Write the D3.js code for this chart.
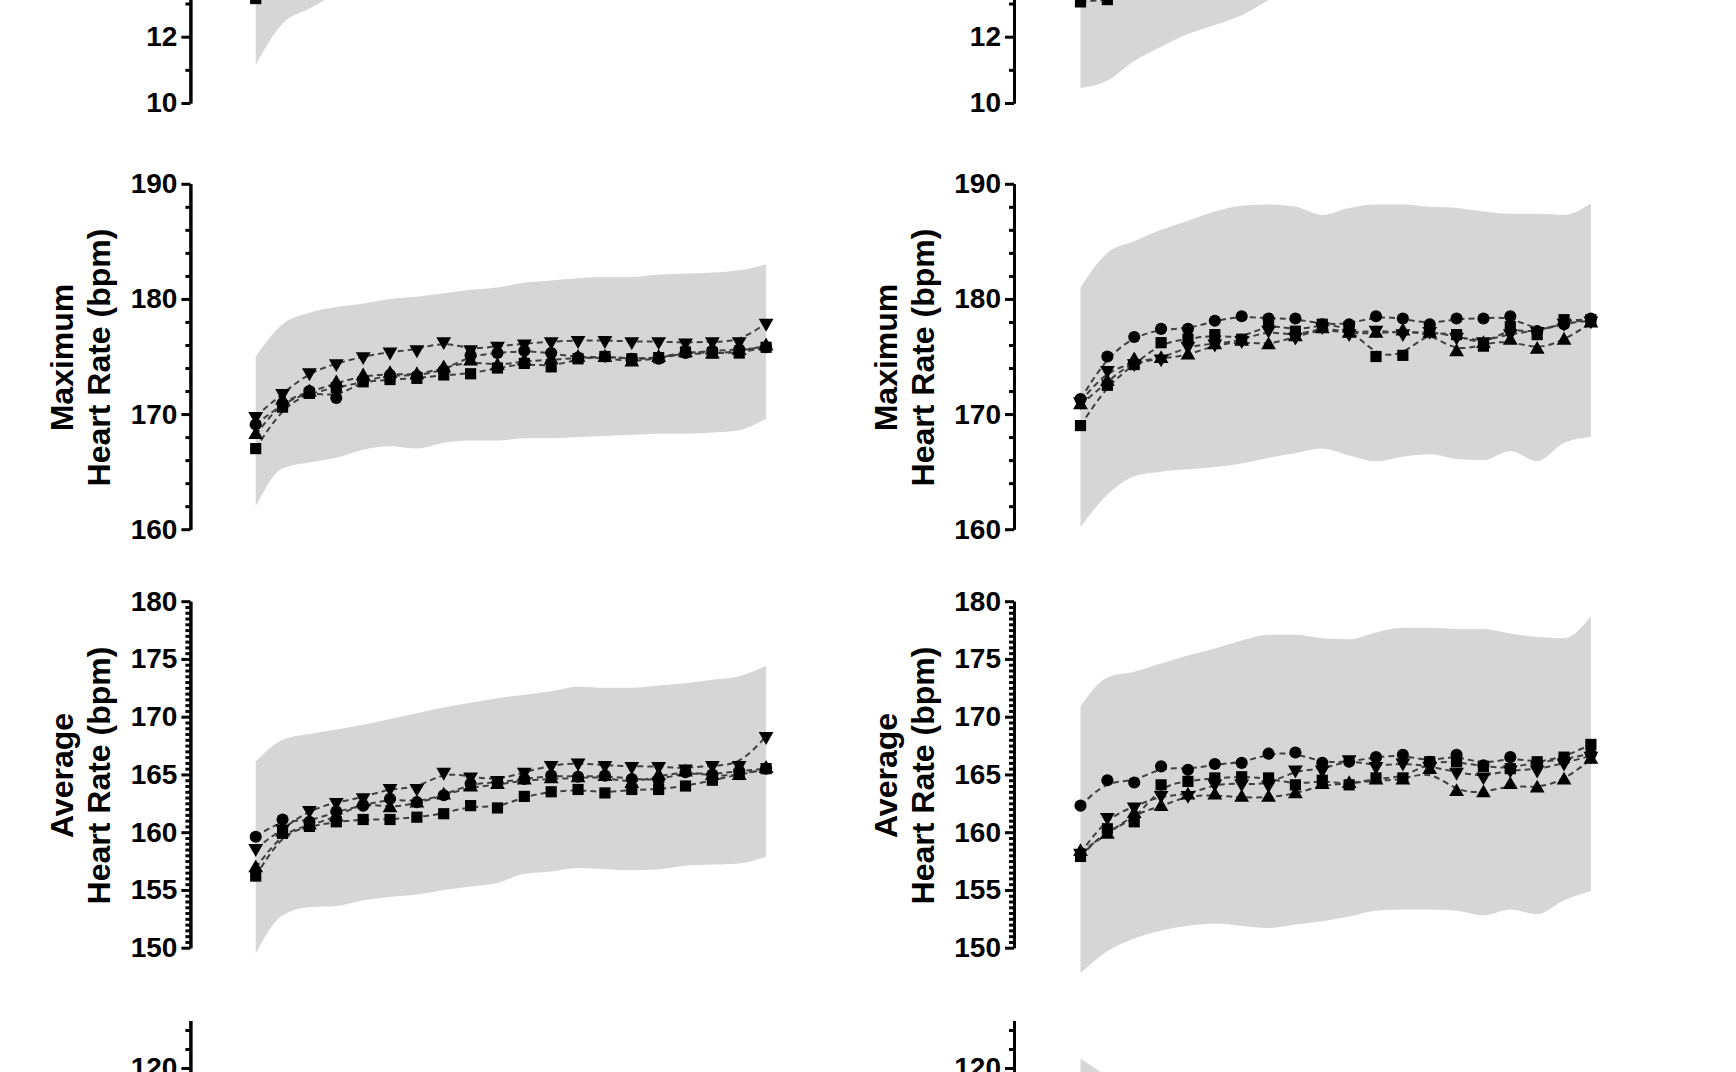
<!DOCTYPE html>
<html lang="en">

<head>

    <meta charset="UTF-8">
    <title>Heart Rate Panels</title>

    <style>

        body
        {
            margin: 0;
            background: #fff;
        }

        svg
        {
            display: block;
        }

        .tick text
        {
            font-family: 'Liberation Sans', Arial, sans-serif;
            font-size: 28px;
            font-weight: bold;
            fill: #000;
        }

        .axis path,
        .axis line
        {
            stroke: #000;
            stroke-width: 3;
        }

        .axis-label
        {
            font-family: 'Liberation Sans', Arial, sans-serif;
            font-size: 32px;
            font-weight: bold;
            fill: #000;
        }

    </style>

</head>

<body>

    <svg width="1736" height="1072"></svg>

    <script src="https://d3js.org/d3.v7.min.js"></script>

    <script>

        // x categories (time points along each panel)
        const stages = [1, 2, 3, 4, 5, 6, 7, 8, 9, 10, 11, 12, 13, 14, 15, 16, 17, 18, 19, 20];

        // Top panels (only the lower part is visible)
        const topLeftBandLo = [11.15, 12.4, 12.85, 13.3];
        const topLeftBandHi = [13.6, 13.6, 13.6, 13.6];
        const topLeftSquare = [13.15];

        const topRightBandLo = [10.45, 10.68, 11.27, 11.7, 12.08, 12.35, 12.65, 13.1, 13.5];
        const topRightBandHi = [13.8, 13.8, 13.8, 13.8, 13.8, 13.8, 13.8, 13.8, 13.8];
        const topRightSquare = [13.05, 13.12];

        // Maximum heart rate, left column
        const maxLeftDown = [169.8, 171.8, 173.6, 174.4, 175.0, 175.4, 175.6, 176.3, 175.6, 175.9, 176.1, 176.3, 176.4, 176.4, 176.3, 176.3, 176.2, 176.3, 176.3, 177.9];
        const maxLeftCircle = [169.1, 170.9, 172.0, 171.4, 172.9, 173.4, 173.3, 173.8, 175.1, 175.3, 175.5, 175.3, 174.9, 175.0, 174.8, 174.8, 175.3, 175.5, 175.6, 175.8];
        const maxLeftUp = [168.2, 171.2, 171.9, 172.7, 173.3, 173.5, 173.4, 174.0, 174.6, 174.2, 174.6, 174.7, 174.9, 174.9, 174.5, 174.9, 175.3, 175.2, 175.5, 175.9];
        const maxLeftSquare = [167.0, 170.6, 171.8, 172.3, 172.8, 173.0, 173.1, 173.4, 173.5, 174.0, 174.4, 174.1, 174.8, 175.0, 174.8, 174.9, 175.4, 175.3, 175.3, 175.8];
        const maxLeftBandHi = [175.0, 177.8, 178.8, 179.3, 179.6, 180.0, 180.2, 180.5, 180.8, 181.0, 181.4, 181.6, 181.8, 181.9, 181.9, 182.1, 182.2, 182.3, 182.5, 183.0];
        const maxLeftBandLo = [162.0, 165.3, 165.8, 166.2, 166.9, 167.2, 167.0, 167.5, 167.7, 167.7, 167.9, 167.9, 168.0, 168.1, 168.2, 168.3, 168.3, 168.4, 168.6, 169.6];

        // Maximum heart rate, right column
        const maxRightCircle = [171.3, 175.0, 176.7, 177.4, 177.4, 178.1, 178.5, 178.3, 178.3, 177.8, 177.8, 178.5, 178.3, 177.8, 178.3, 178.3, 178.5, 177.2, 177.8, 178.3];
        const maxRightSquare = [169.0, 172.5, 174.3, 176.2, 176.5, 176.9, 176.5, 177.9, 177.2, 177.8, 177.6, 175.0, 175.1, 177.2, 176.9, 175.9, 177.6, 176.9, 178.2, 178.2];
        const maxRightUp = [170.8, 172.8, 174.7, 174.8, 175.1, 176.0, 176.3, 176.0, 176.7, 177.4, 177.0, 177.0, 177.2, 177.0, 175.4, 176.1, 176.4, 175.6, 176.4, 177.9];
        const maxRightDown = [171.1, 173.8, 174.4, 174.8, 175.9, 176.1, 176.4, 177.3, 176.7, 177.6, 177.0, 177.3, 177.0, 177.2, 176.7, 176.3, 177.0, 177.2, 177.9, 178.1];
        const maxRightBandHi = [181.0, 184.0, 185.0, 186.0, 186.8, 187.6, 188.1, 188.2, 188.0, 187.3, 187.9, 188.2, 188.2, 188.0, 187.9, 187.6, 187.4, 187.4, 187.3, 188.3];
        const maxRightBandLo = [160.2, 163.0, 164.6, 165.0, 165.2, 165.4, 165.7, 166.2, 166.6, 167.0, 166.4, 165.9, 166.3, 166.5, 166.1, 166.0, 166.8, 165.9, 167.5, 168.0];

        // Average heart rate, left column
        const avgLeftDown = [158.6, 160.3, 161.9, 162.6, 163.0, 163.8, 163.8, 165.2, 164.8, 164.5, 165.2, 165.8, 166.0, 165.8, 165.7, 165.7, 165.5, 165.8, 165.8, 168.3];
        const avgLeftCircle = [159.6, 161.1, 160.9, 161.8, 162.3, 162.9, 162.6, 163.2, 164.2, 164.3, 164.6, 164.9, 164.8, 164.9, 164.6, 164.5, 165.2, 165.0, 165.3, 165.5];
        const avgLeftUp = [156.9, 160.0, 160.6, 161.3, 162.6, 162.1, 162.5, 163.2, 163.9, 164.1, 164.5, 164.6, 164.7, 164.8, 164.2, 164.9, 165.2, 164.9, 164.9, 165.5];
        const avgLeftSquare = [156.2, 159.9, 160.5, 160.9, 161.1, 161.1, 161.3, 161.6, 162.3, 162.1, 163.1, 163.5, 163.7, 163.4, 163.7, 163.7, 164.0, 164.5, 165.0, 165.5];
        const avgLeftBandHi = [166.1, 168.0, 168.5, 168.9, 169.3, 169.8, 170.3, 170.8, 171.2, 171.6, 171.9, 172.2, 172.6, 172.5, 172.5, 172.7, 172.9, 173.2, 173.5, 174.4];
        const avgLeftBandLo = [149.5, 152.8, 153.5, 153.6, 154.1, 154.4, 154.6, 155.0, 155.3, 155.6, 156.4, 156.6, 156.9, 156.8, 156.7, 156.8, 157.1, 157.2, 157.3, 157.9];

        // Average heart rate, right column
        const avgRightCircle = [162.3, 164.5, 164.3, 165.7, 165.4, 165.9, 166.0, 166.8, 166.9, 166.0, 166.1, 166.5, 166.7, 166.1, 166.7, 165.8, 166.5, 166.0, 166.3, 166.8];
        const avgRightSquare = [157.9, 160.3, 160.9, 164.1, 164.4, 164.7, 164.8, 164.7, 164.1, 164.5, 164.1, 164.7, 164.7, 166.1, 166.1, 165.7, 165.5, 166.1, 166.5, 167.6];
        const avgRightUp = [158.3, 159.8, 161.6, 162.2, 163.2, 163.2, 163.0, 163.0, 163.3, 164.1, 164.2, 164.5, 164.5, 165.4, 163.5, 163.4, 164.1, 163.8, 164.5, 166.3];
        const avgRightDown = [158.2, 161.3, 162.2, 163.2, 163.2, 164.2, 164.2, 164.1, 165.4, 165.4, 166.3, 165.7, 166.0, 165.7, 165.2, 164.8, 165.4, 165.4, 166.0, 166.6];
        const avgRightBandHi = [170.9, 173.4, 173.9, 174.6, 175.3, 175.9, 176.6, 177.1, 177.1, 176.8, 176.7, 177.3, 177.7, 177.7, 177.6, 177.6, 177.2, 176.9, 176.8, 178.7];
        const avgRightBandLo = [147.8, 149.7, 150.8, 151.5, 151.9, 152.1, 151.9, 151.7, 152.0, 152.3, 152.7, 153.2, 153.3, 153.3, 153.2, 152.8, 153.3, 152.9, 154.1, 154.9];

        // Bottom panels (only the top is visible)
        const cutRightBandHi = [121.0, 119.1];
        const cutRightBandLo = [100, 100];

        // Layout of the two columns
        const columns = [
            { axisX: 190.4, x0: 255.7, x1: 766.1 },
            { axisX: 1014, x0: 1080.5, x1: 1590.9 }
        ];

        // Layout of the rows (y scales and ticks)
        const rows = {
            top: { domain: [10, 14], range: [103, -29.6], major: [10, 12], minorStep: 1 },
            max: { domain: [160, 190], range: [529.2, 183.8], major: [160, 170, 180, 190], minorStep: 2,
                   title: ['Maximum', 'Heart Rate (bpm)'], titleY: 357.5 },
            avg: { domain: [150, 180], range: [947.7, 601.2], major: [150, 155, 160, 165, 170, 175, 180], minorStep: 0.5,
                   title: ['Average', 'Heart Rate (bpm)'], titleY: 775.5 },
            cut: { domain: [116, 125], range: [1106, 1020.5], major: [120], minorStep: 2 }
        };

        const panels = [
            { row: 'top', col: 0, bandLo: topLeftBandLo, bandHi: topLeftBandHi,
              series: [{ shape: 'square', values: topLeftSquare }] },
            { row: 'top', col: 1, bandLo: topRightBandLo, bandHi: topRightBandHi,
              series: [{ shape: 'square', values: topRightSquare }] },
            { row: 'max', col: 0, bandLo: maxLeftBandLo, bandHi: maxLeftBandHi,
              series: [
                  { shape: 'down', values: maxLeftDown },
                  { shape: 'circle', values: maxLeftCircle },
                  { shape: 'up', values: maxLeftUp },
                  { shape: 'square', values: maxLeftSquare }
              ] },
            { row: 'max', col: 1, bandLo: maxRightBandLo, bandHi: maxRightBandHi,
              series: [
                  { shape: 'down', values: maxRightDown },
                  { shape: 'circle', values: maxRightCircle },
                  { shape: 'up', values: maxRightUp },
                  { shape: 'square', values: maxRightSquare }
              ] },
            { row: 'avg', col: 0, bandLo: avgLeftBandLo, bandHi: avgLeftBandHi,
              series: [
                  { shape: 'down', values: avgLeftDown },
                  { shape: 'circle', values: avgLeftCircle },
                  { shape: 'up', values: avgLeftUp },
                  { shape: 'square', values: avgLeftSquare }
              ] },
            { row: 'avg', col: 1, bandLo: avgRightBandLo, bandHi: avgRightBandHi,
              series: [
                  { shape: 'down', values: avgRightDown },
                  { shape: 'circle', values: avgRightCircle },
                  { shape: 'up', values: avgRightUp },
                  { shape: 'square', values: avgRightSquare }
              ] },
            { row: 'cut', col: 0, series: [] },
            { row: 'cut', col: 1, bandLo: cutRightBandLo, bandHi: cutRightBandHi, series: [] }
        ];

        const symbols = {
            circle: d3.symbol().type(d3.symbolCircle).size(115),
            square: d3.symbol().type(d3.symbolSquare).size(125),
            up: d3.symbol().type(d3.symbolTriangle).size(95),
            down: d3.symbol().type(d3.symbolTriangle).size(95)
        };

        const svg = d3.select('svg');

        panels.forEach(function (p) {

            const row = rows[p.row];
            const col = columns[p.col];

            const xScale = d3.scaleLinear()
                .domain([stages[0], stages[stages.length - 1]])
                .range([col.x0, col.x1]);

            const yScale = d3.scaleLinear()
                .domain(row.domain)
                .range(row.range);

            const g = svg.append('g');

            // Shaded range
            if (p.bandLo) {
                const bandData = p.bandLo.map(function (lo, i) {
                    return { x: stages[i], lo: lo, hi: p.bandHi[i] };
                });

                g.append('path')
                    .datum(bandData)
                    .attr('fill', '#d6d6d6')
                    .attr('d', d3.area()
                        .x(function (d) { return xScale(d.x); })
                        .y0(function (d) { return yScale(d.lo); })
                        .y1(function (d) { return yScale(d.hi); })
                        .curve(d3.curveMonotoneX));
            }

            // Dashed fit lines
            const line = d3.line()
                .x(function (d) { return xScale(d.x); })
                .y(function (d) { return yScale(d.y); })
                .curve(d3.curveBasis);

            p.series.forEach(function (s) {
                const pts = s.values.map(function (v, i) {
                    return { x: stages[i], y: v };
                });

                if (pts.length > 1) {
                    g.append('path')
                        .datum(pts)
                        .attr('fill', 'none')
                        .attr('stroke', '#404040')
                        .attr('stroke-width', 2)
                        .attr('stroke-dasharray', '6,4')
                        .attr('d', line);
                }
            });

            // Markers on top
            p.series.forEach(function (s) {
                g.selectAll(null)
                    .data(s.values)
                    .enter()
                    .append('path')
                    .attr('d', symbols[s.shape])
                    .attr('fill', '#000')
                    .attr('transform', function (v, i) {
                        const t = 'translate(' + xScale(stages[i]) + ',' + yScale(v) + ')';
                        return s.shape === 'down' ? t + ' rotate(180)' : t;
                    });
            });

            // Minor ticks
            const minor = d3.range(row.domain[0], row.domain[1] + 1e-6, row.minorStep)
                .filter(function (v) { return row.major.indexOf(v) < 0; });

            g.append('g')
                .attr('class', 'axis')
                .attr('transform', 'translate(' + col.axisX + ',0)')
                .call(d3.axisLeft(yScale)
                    .tickValues(minor)
                    .tickSize(5)
                    .tickSizeOuter(0)
                    .tickFormat(''));

            // Major ticks with labels
            g.append('g')
                .attr('class', 'axis')
                .attr('transform', 'translate(' + col.axisX + ',0)')
                .call(d3.axisLeft(yScale)
                    .tickValues(row.major)
                    .tickSize(9)
                    .tickSizeOuter(0)
                    .tickPadding(4)
                    .tickFormat(d3.format('d')));

            // Two-line axis title
            if (row.title) {
                row.title.forEach(function (t, k) {
                    g.append('text')
                        .attr('class', 'axis-label')
                        .attr('text-anchor', 'middle')
                        .attr('transform', 'translate(' + (col.axisX - 117 + k * 36.5) + ',' + row.titleY + ') rotate(-90)')
                        .text(t);
                });
            }
        });

    </script>

</body>

</html>
